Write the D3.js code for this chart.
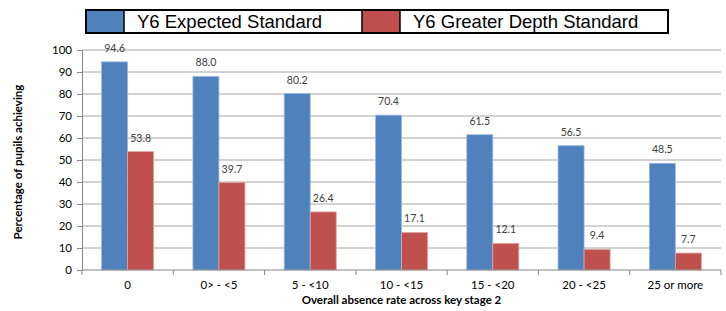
<!DOCTYPE html>
<html>
<head>
<meta charset="utf-8">
<script src="https://cdn.jsdelivr.net/npm/d3@7"></script>
<style>
  body { margin: 0; background: #fff; }
  svg { display: block; }
</style>
</head>
<body>
<svg id="chart" width="726" height="311"></svg>
<script>
// data
const categories = ["0", "0> - <5", "5 - <10", "10 - <15", "15 - <20", "20 - <25", "25 or more"];
const seriesNames = ["Y6 Expected Standard", "Y6 Greater Depth Standard"];
const expected = [94.6, 88.0, 80.2, 70.4, 61.5, 56.5, 48.5];
const greaterDepth = [53.8, 39.7, 26.4, 17.1, 12.1, 9.4, 7.7];
const yTicks = [0, 10, 20, 30, 40, 50, 60, 70, 80, 90, 100];

const colors = ["#4F81BD", "#C0504D"];
const svg = d3.select("#chart");

// plot area
const plot = { left: 82, right: 721, top: 50, bottom: 270 };

const rows = categories.map((c, i) => ({ cat: c, values: [expected[i], greaterDepth[i]] }));

const x0 = d3.scaleBand()
    .domain(categories)
    .range([plot.left, plot.right])
    .paddingInner(0.43)
    .paddingOuter(0.215);
const x1 = d3.scaleBand()
    .domain([0, 1])
    .range([0, x0.bandwidth()]);
const y = d3.scaleLinear()
    .domain([0, 100])
    .range([plot.bottom, plot.top]);

// gridlines
svg.append("g")
    .selectAll("line")
    .data(yTicks.filter(d => d > 0))
    .enter().append("line")
    .attr("x1", plot.left)
    .attr("x2", plot.right)
    .attr("y1", d => y(d))
    .attr("y2", d => y(d))
    .attr("stroke", "#a6a6a6")
    .attr("stroke-width", 1);

// bars
const groups = svg.append("g")
    .selectAll("g")
    .data(rows)
    .enter().append("g")
    .attr("transform", d => `translate(${x0(d.cat)},0)`);

groups.selectAll("rect")
    .data(d => d.values.map((v, k) => ({ v, k })))
    .enter().append("rect")
    .attr("x", d => x1(d.k))
    .attr("y", d => y(d.v))
    .attr("width", x1.bandwidth())
    .attr("height", d => y(0) - y(d.v))
    .attr("fill", d => colors[d.k])
    .attr("stroke", d => d.k === 0 ? "#9db9de" : "#e0a3a1")
    .attr("stroke-width", 0.8);

// data labels
groups.selectAll("text")
    .data(d => d.values.map((v, k) => ({ v, k })))
    .enter().append("text")
    .attr("x", d => x1(d.k) + x1.bandwidth() / 2)
    .attr("y", d => y(d.v) - 10)
    .attr("text-anchor", "middle")
    .style("font-family", "Lato, 'Open Sans', sans-serif")
    .style("font-size", "10.5px")
    .style("fill", "#404040")
    .text(d => d.v.toFixed(1));

// y axis
const yAxis = d3.axisLeft(y).tickValues(yTicks).tickSize(5).tickPadding(5);
const gy = svg.append("g")
    .attr("transform", `translate(${plot.left},0)`)
    .call(yAxis);
gy.select(".domain").attr("stroke", "#888");
gy.selectAll(".tick line").attr("stroke", "#888");
gy.selectAll(".tick text")
    .style("font-family", "Lato, sans-serif")
    .style("font-size", "11.5px")
    .style("fill", "#000");

// x axis (ticks at category boundaries)
const boundaries = d3.range(categories.length + 1).map(i => plot.left + i * x0.step());
const gx = svg.append("g");
gx.append("line")
    .attr("x1", plot.left).attr("x2", plot.right)
    .attr("y1", plot.bottom).attr("y2", plot.bottom)
    .attr("stroke", "#888");
gx.selectAll(".bt")
    .data(boundaries)
    .enter().append("line")
    .attr("x1", d => d).attr("x2", d => d)
    .attr("y1", plot.bottom).attr("y2", plot.bottom + 5)
    .attr("stroke", "#888");
gx.selectAll(".lbl")
    .data(categories)
    .enter().append("text")
    .attr("x", d => x0(d) + x0.bandwidth() / 2)
    .attr("y", plot.bottom + 19)
    .attr("text-anchor", "middle")
    .style("font-family", "Lato, sans-serif")
    .style("font-size", "11.5px")
    .style("fill", "#000")
    .text(d => d);

// axis titles
svg.append("text")
    .attr("x", (plot.left + plot.right) / 2)
    .attr("y", 304)
    .attr("text-anchor", "middle")
    .style("font-family", "Lato, sans-serif")
    .style("font-weight", "bold")
    .style("font-size", "11.5px")
    .text("Overall absence rate across key stage 2");

svg.append("text")
    .attr("transform", `translate(22,${(plot.top + plot.bottom) / 2 + 2}) rotate(-90)`)
    .attr("text-anchor", "middle")
    .style("font-family", "Lato, sans-serif")
    .style("font-weight", "bold")
    .style("font-size", "11.5px")
    .text("Percentage of pupils achieving");

// legend
const legend = svg.append("g");
const legendItems = [
    { name: seriesNames[0], x: 86, w: 276, color: colors[0] },
    { name: seriesNames[1], x: 362, w: 306, color: colors[1] }
];
const ly = 10, lh = 23, sw = 38;
legendItems.forEach(it => {
    legend.append("rect")
        .attr("x", it.x).attr("y", ly)
        .attr("width", sw).attr("height", lh)
        .attr("fill", it.color);
    legend.append("line")
        .attr("x1", it.x + sw).attr("x2", it.x + sw)
        .attr("y1", ly).attr("y2", ly + lh)
        .attr("stroke", "#000").attr("stroke-width", 1.5);
    legend.append("text")
        .attr("x", it.x + sw + 13)
        .attr("y", ly + 18)
        .style("font-family", "'Liberation Sans', Arial, sans-serif")
        .style("font-size", "18.5px")
        .text(it.name);
});
legend.append("line")
    .attr("x1", 362).attr("x2", 362)
    .attr("y1", ly).attr("y2", ly + lh)
    .attr("stroke", "#000").attr("stroke-width", 1.5);
legend.append("rect")
    .attr("x", 86).attr("y", ly)
    .attr("width", 582).attr("height", lh)
    .attr("fill", "none")
    .attr("stroke", "#000").attr("stroke-width", 2);
</script>
</body>
</html>
